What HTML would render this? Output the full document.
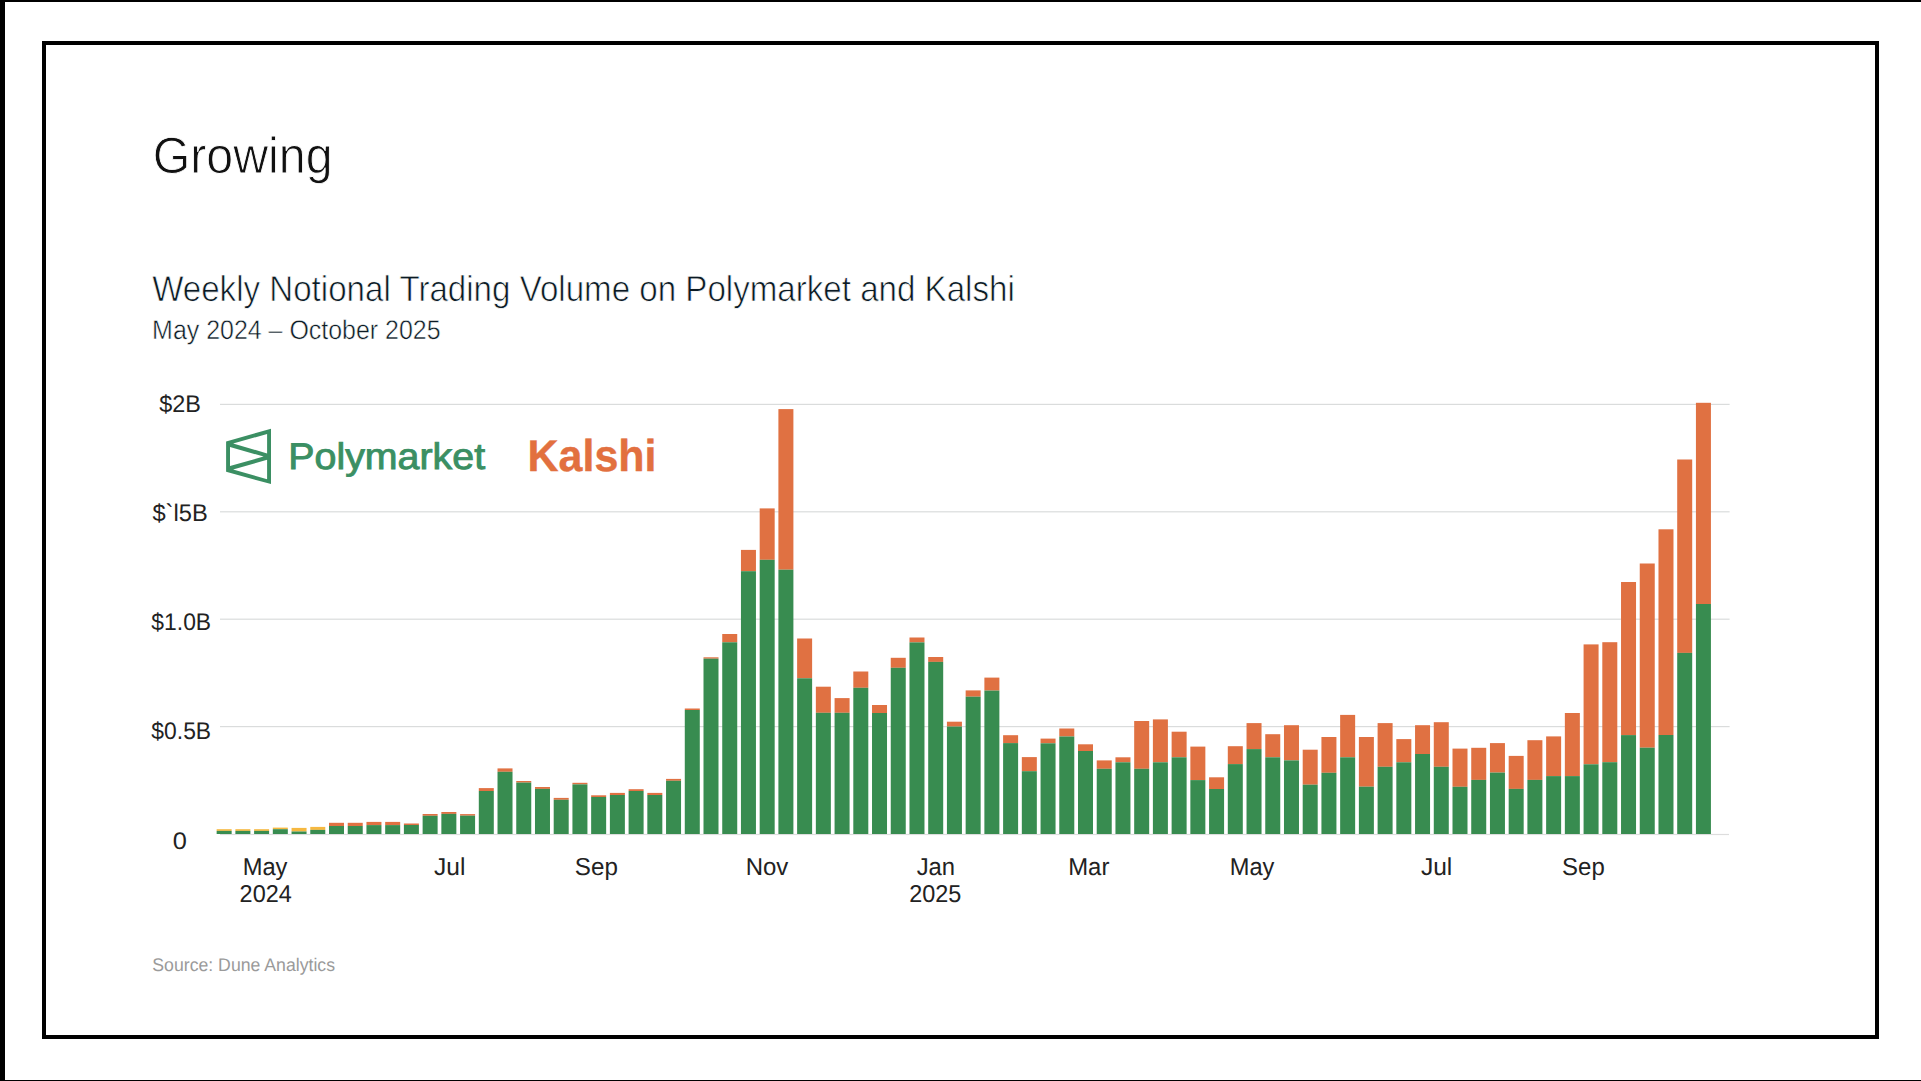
<!DOCTYPE html>
<html><head><meta charset="utf-8">
<style>
html,body{margin:0;padding:0;background:#fff;}
body{width:1921px;height:1081px;overflow:hidden;position:relative;}
svg{position:absolute;left:0;top:0;}
text{font-family:"Liberation Sans",sans-serif;text-rendering:geometricPrecision;}
</style></head><body>
<svg width="1921" height="1081" viewBox="0 0 1921 1081" xmlns="http://www.w3.org/2000/svg">
<rect x="0" y="0" width="1921" height="1081" fill="#fff"/>
<rect x="0" y="0" width="5" height="1081" fill="#000"/>
<rect x="0" y="0" width="1921" height="2" fill="#000"/>
<rect x="0" y="1080" width="1921" height="1" fill="#000"/>
<rect x="44" y="43" width="1833" height="994" fill="none" stroke="#000" stroke-width="4"/>
<rect x="220" y="403.80" width="1509.6" height="1.2" fill="#dadcdc"/>
<rect x="220" y="511.20" width="1509.6" height="1.2" fill="#dadcdc"/>
<rect x="220" y="618.60" width="1509.6" height="1.2" fill="#dadcdc"/>
<rect x="220" y="726.00" width="1509.6" height="1.2" fill="#dadcdc"/>
<rect x="220" y="833.90" width="1509" height="1.2" fill="#dddddd"/>
<rect x="216.65" y="829.20" width="15.0" height="1.70" fill="#f6b840"/>
<rect x="216.65" y="830.90" width="15.0" height="3.10" fill="#388c50"/>
<rect x="235.38" y="829.20" width="15.0" height="1.70" fill="#f6b840"/>
<rect x="235.38" y="830.90" width="15.0" height="3.10" fill="#388c50"/>
<rect x="254.10" y="829.20" width="15.0" height="1.70" fill="#f6b840"/>
<rect x="254.10" y="830.90" width="15.0" height="3.10" fill="#388c50"/>
<rect x="272.82" y="827.60" width="15.0" height="1.60" fill="#f6b840"/>
<rect x="272.82" y="829.20" width="15.0" height="4.80" fill="#388c50"/>
<rect x="291.55" y="827.90" width="15.0" height="3.60" fill="#f6b840"/>
<rect x="291.55" y="831.50" width="15.0" height="2.50" fill="#388c50"/>
<rect x="310.27" y="826.90" width="15.0" height="3.00" fill="#f6b840"/>
<rect x="310.27" y="829.90" width="15.0" height="4.10" fill="#388c50"/>
<rect x="329.00" y="822.80" width="15.0" height="3.20" fill="#e07142"/>
<rect x="329.00" y="826.00" width="15.0" height="8.00" fill="#388c50"/>
<rect x="347.73" y="822.80" width="15.0" height="3.20" fill="#e07142"/>
<rect x="347.73" y="826.00" width="15.0" height="8.00" fill="#388c50"/>
<rect x="366.45" y="821.90" width="15.0" height="3.20" fill="#e07142"/>
<rect x="366.45" y="825.10" width="15.0" height="8.90" fill="#388c50"/>
<rect x="385.18" y="821.90" width="15.0" height="3.20" fill="#e07142"/>
<rect x="385.18" y="825.10" width="15.0" height="8.90" fill="#388c50"/>
<rect x="403.90" y="823.50" width="15.0" height="1.50" fill="#e07142"/>
<rect x="403.90" y="825.00" width="15.0" height="9.00" fill="#388c50"/>
<rect x="422.62" y="814.00" width="15.0" height="1.80" fill="#e07142"/>
<rect x="422.62" y="815.80" width="15.0" height="18.20" fill="#388c50"/>
<rect x="441.35" y="812.00" width="15.0" height="1.90" fill="#e07142"/>
<rect x="441.35" y="813.90" width="15.0" height="20.10" fill="#388c50"/>
<rect x="460.08" y="814.10" width="15.0" height="1.60" fill="#e07142"/>
<rect x="460.08" y="815.70" width="15.0" height="18.30" fill="#388c50"/>
<rect x="478.80" y="788.10" width="15.0" height="2.90" fill="#e07142"/>
<rect x="478.80" y="791.00" width="15.0" height="43.00" fill="#388c50"/>
<rect x="497.52" y="768.40" width="15.0" height="3.40" fill="#e07142"/>
<rect x="497.52" y="771.80" width="15.0" height="62.20" fill="#388c50"/>
<rect x="516.25" y="781.00" width="15.0" height="1.60" fill="#e07142"/>
<rect x="516.25" y="782.60" width="15.0" height="51.40" fill="#388c50"/>
<rect x="534.98" y="787.00" width="15.0" height="1.90" fill="#e07142"/>
<rect x="534.98" y="788.90" width="15.0" height="45.10" fill="#388c50"/>
<rect x="553.70" y="797.90" width="15.0" height="1.90" fill="#e07142"/>
<rect x="553.70" y="799.80" width="15.0" height="34.20" fill="#388c50"/>
<rect x="572.43" y="782.80" width="15.0" height="1.60" fill="#e07142"/>
<rect x="572.43" y="784.40" width="15.0" height="49.60" fill="#388c50"/>
<rect x="591.15" y="795.30" width="15.0" height="1.70" fill="#e07142"/>
<rect x="591.15" y="797.00" width="15.0" height="37.00" fill="#388c50"/>
<rect x="609.88" y="792.90" width="15.0" height="2.10" fill="#e07142"/>
<rect x="609.88" y="795.00" width="15.0" height="39.00" fill="#388c50"/>
<rect x="628.60" y="789.20" width="15.0" height="1.80" fill="#e07142"/>
<rect x="628.60" y="791.00" width="15.0" height="43.00" fill="#388c50"/>
<rect x="647.33" y="792.90" width="15.0" height="2.10" fill="#e07142"/>
<rect x="647.33" y="795.00" width="15.0" height="39.00" fill="#388c50"/>
<rect x="666.05" y="778.90" width="15.0" height="1.90" fill="#e07142"/>
<rect x="666.05" y="780.80" width="15.0" height="53.20" fill="#388c50"/>
<rect x="684.78" y="708.50" width="15.0" height="1.50" fill="#e07142"/>
<rect x="684.78" y="710.00" width="15.0" height="124.00" fill="#388c50"/>
<rect x="703.50" y="657.30" width="15.0" height="1.40" fill="#e07142"/>
<rect x="703.50" y="658.70" width="15.0" height="175.30" fill="#388c50"/>
<rect x="722.23" y="634.00" width="15.0" height="8.30" fill="#e07142"/>
<rect x="722.23" y="642.30" width="15.0" height="191.70" fill="#388c50"/>
<rect x="740.95" y="549.90" width="15.0" height="21.30" fill="#e07142"/>
<rect x="740.95" y="571.20" width="15.0" height="262.80" fill="#388c50"/>
<rect x="759.68" y="508.40" width="15.0" height="51.40" fill="#e07142"/>
<rect x="759.68" y="559.80" width="15.0" height="274.20" fill="#388c50"/>
<rect x="778.40" y="409.10" width="15.0" height="160.60" fill="#e07142"/>
<rect x="778.40" y="569.70" width="15.0" height="264.30" fill="#388c50"/>
<rect x="797.12" y="638.50" width="15.0" height="39.80" fill="#e07142"/>
<rect x="797.12" y="678.30" width="15.0" height="155.70" fill="#388c50"/>
<rect x="815.85" y="686.70" width="15.0" height="26.10" fill="#e07142"/>
<rect x="815.85" y="712.80" width="15.0" height="121.20" fill="#388c50"/>
<rect x="834.58" y="698.10" width="15.0" height="14.70" fill="#e07142"/>
<rect x="834.58" y="712.80" width="15.0" height="121.20" fill="#388c50"/>
<rect x="853.30" y="671.50" width="15.0" height="16.30" fill="#e07142"/>
<rect x="853.30" y="687.80" width="15.0" height="146.20" fill="#388c50"/>
<rect x="872.02" y="705.00" width="15.0" height="8.00" fill="#e07142"/>
<rect x="872.02" y="713.00" width="15.0" height="121.00" fill="#388c50"/>
<rect x="890.75" y="657.80" width="15.0" height="10.00" fill="#e07142"/>
<rect x="890.75" y="667.80" width="15.0" height="166.20" fill="#388c50"/>
<rect x="909.48" y="637.50" width="15.0" height="4.90" fill="#e07142"/>
<rect x="909.48" y="642.40" width="15.0" height="191.60" fill="#388c50"/>
<rect x="928.20" y="657.00" width="15.0" height="4.90" fill="#e07142"/>
<rect x="928.20" y="661.90" width="15.0" height="172.10" fill="#388c50"/>
<rect x="946.93" y="721.70" width="15.0" height="4.90" fill="#e07142"/>
<rect x="946.93" y="726.60" width="15.0" height="107.40" fill="#388c50"/>
<rect x="965.65" y="690.40" width="15.0" height="6.30" fill="#e07142"/>
<rect x="965.65" y="696.70" width="15.0" height="137.30" fill="#388c50"/>
<rect x="984.38" y="677.60" width="15.0" height="13.00" fill="#e07142"/>
<rect x="984.38" y="690.60" width="15.0" height="143.40" fill="#388c50"/>
<rect x="1003.10" y="735.20" width="15.0" height="7.90" fill="#e07142"/>
<rect x="1003.10" y="743.10" width="15.0" height="90.90" fill="#388c50"/>
<rect x="1021.83" y="757.10" width="15.0" height="14.10" fill="#e07142"/>
<rect x="1021.83" y="771.20" width="15.0" height="62.80" fill="#388c50"/>
<rect x="1040.55" y="738.60" width="15.0" height="4.70" fill="#e07142"/>
<rect x="1040.55" y="743.30" width="15.0" height="90.70" fill="#388c50"/>
<rect x="1059.28" y="728.50" width="15.0" height="8.00" fill="#e07142"/>
<rect x="1059.28" y="736.50" width="15.0" height="97.50" fill="#388c50"/>
<rect x="1078.00" y="744.30" width="15.0" height="6.70" fill="#e07142"/>
<rect x="1078.00" y="751.00" width="15.0" height="83.00" fill="#388c50"/>
<rect x="1096.73" y="760.40" width="15.0" height="8.40" fill="#e07142"/>
<rect x="1096.73" y="768.80" width="15.0" height="65.20" fill="#388c50"/>
<rect x="1115.45" y="757.30" width="15.0" height="5.00" fill="#e07142"/>
<rect x="1115.45" y="762.30" width="15.0" height="71.70" fill="#388c50"/>
<rect x="1134.18" y="721.00" width="15.0" height="47.80" fill="#e07142"/>
<rect x="1134.18" y="768.80" width="15.0" height="65.20" fill="#388c50"/>
<rect x="1152.90" y="719.40" width="15.0" height="42.90" fill="#e07142"/>
<rect x="1152.90" y="762.30" width="15.0" height="71.70" fill="#388c50"/>
<rect x="1171.62" y="731.70" width="15.0" height="25.60" fill="#e07142"/>
<rect x="1171.62" y="757.30" width="15.0" height="76.70" fill="#388c50"/>
<rect x="1190.35" y="746.60" width="15.0" height="33.50" fill="#e07142"/>
<rect x="1190.35" y="780.10" width="15.0" height="53.90" fill="#388c50"/>
<rect x="1209.08" y="777.30" width="15.0" height="11.70" fill="#e07142"/>
<rect x="1209.08" y="789.00" width="15.0" height="45.00" fill="#388c50"/>
<rect x="1227.80" y="746.20" width="15.0" height="17.90" fill="#e07142"/>
<rect x="1227.80" y="764.10" width="15.0" height="69.90" fill="#388c50"/>
<rect x="1246.53" y="723.10" width="15.0" height="26.00" fill="#e07142"/>
<rect x="1246.53" y="749.10" width="15.0" height="84.90" fill="#388c50"/>
<rect x="1265.25" y="734.20" width="15.0" height="23.10" fill="#e07142"/>
<rect x="1265.25" y="757.30" width="15.0" height="76.70" fill="#388c50"/>
<rect x="1283.98" y="725.20" width="15.0" height="35.20" fill="#e07142"/>
<rect x="1283.98" y="760.40" width="15.0" height="73.60" fill="#388c50"/>
<rect x="1302.70" y="749.70" width="15.0" height="35.00" fill="#e07142"/>
<rect x="1302.70" y="784.70" width="15.0" height="49.30" fill="#388c50"/>
<rect x="1321.43" y="737.00" width="15.0" height="35.80" fill="#e07142"/>
<rect x="1321.43" y="772.80" width="15.0" height="61.20" fill="#388c50"/>
<rect x="1340.15" y="714.90" width="15.0" height="42.40" fill="#e07142"/>
<rect x="1340.15" y="757.30" width="15.0" height="76.70" fill="#388c50"/>
<rect x="1358.88" y="737.00" width="15.0" height="49.70" fill="#e07142"/>
<rect x="1358.88" y="786.70" width="15.0" height="47.30" fill="#388c50"/>
<rect x="1377.60" y="723.10" width="15.0" height="43.70" fill="#e07142"/>
<rect x="1377.60" y="766.80" width="15.0" height="67.20" fill="#388c50"/>
<rect x="1396.33" y="739.10" width="15.0" height="23.20" fill="#e07142"/>
<rect x="1396.33" y="762.30" width="15.0" height="71.70" fill="#388c50"/>
<rect x="1415.05" y="725.20" width="15.0" height="28.80" fill="#e07142"/>
<rect x="1415.05" y="754.00" width="15.0" height="80.00" fill="#388c50"/>
<rect x="1433.78" y="722.20" width="15.0" height="44.60" fill="#e07142"/>
<rect x="1433.78" y="766.80" width="15.0" height="67.20" fill="#388c50"/>
<rect x="1452.50" y="748.60" width="15.0" height="38.20" fill="#e07142"/>
<rect x="1452.50" y="786.80" width="15.0" height="47.20" fill="#388c50"/>
<rect x="1471.23" y="747.80" width="15.0" height="32.10" fill="#e07142"/>
<rect x="1471.23" y="779.90" width="15.0" height="54.10" fill="#388c50"/>
<rect x="1489.95" y="743.10" width="15.0" height="29.50" fill="#e07142"/>
<rect x="1489.95" y="772.60" width="15.0" height="61.40" fill="#388c50"/>
<rect x="1508.68" y="755.90" width="15.0" height="33.00" fill="#e07142"/>
<rect x="1508.68" y="788.90" width="15.0" height="45.10" fill="#388c50"/>
<rect x="1527.40" y="740.20" width="15.0" height="39.70" fill="#e07142"/>
<rect x="1527.40" y="779.90" width="15.0" height="54.10" fill="#388c50"/>
<rect x="1546.13" y="736.40" width="15.0" height="39.70" fill="#e07142"/>
<rect x="1546.13" y="776.10" width="15.0" height="57.90" fill="#388c50"/>
<rect x="1564.85" y="713.00" width="15.0" height="63.10" fill="#e07142"/>
<rect x="1564.85" y="776.10" width="15.0" height="57.90" fill="#388c50"/>
<rect x="1583.58" y="644.40" width="15.0" height="119.90" fill="#e07142"/>
<rect x="1583.58" y="764.30" width="15.0" height="69.70" fill="#388c50"/>
<rect x="1602.30" y="642.20" width="15.0" height="120.00" fill="#e07142"/>
<rect x="1602.30" y="762.20" width="15.0" height="71.80" fill="#388c50"/>
<rect x="1621.03" y="582.00" width="15.0" height="153.10" fill="#e07142"/>
<rect x="1621.03" y="735.10" width="15.0" height="98.90" fill="#388c50"/>
<rect x="1639.75" y="563.50" width="15.0" height="184.20" fill="#e07142"/>
<rect x="1639.75" y="747.70" width="15.0" height="86.30" fill="#388c50"/>
<rect x="1658.48" y="529.30" width="15.0" height="205.70" fill="#e07142"/>
<rect x="1658.48" y="735.00" width="15.0" height="99.00" fill="#388c50"/>
<rect x="1677.20" y="459.50" width="15.0" height="193.40" fill="#e07142"/>
<rect x="1677.20" y="652.90" width="15.0" height="181.10" fill="#388c50"/>
<rect x="1695.93" y="402.80" width="15.0" height="201.20" fill="#e07142"/>
<rect x="1695.93" y="604.00" width="15.0" height="230.00" fill="#388c50"/>
<path fill="#3b8f63" fill-rule="evenodd" d="M226.1,441.4 L271.0,428.7 L271.0,484.1 L226.1,471.8 Z M233.1,443.6 L267.1,433.9 L267.1,453.4 Z M230.0,446.9 L263.6,456.6 L230.0,466.0 Z M233.1,469.5 L267.1,459.8 L267.1,479.3 Z"/>
<text x="152.65" y="172.9" font-size="51" fill="#111" stroke="#fff" stroke-width="0.9" textLength="179.92" lengthAdjust="spacingAndGlyphs">Growing</text>
<text x="152.13" y="300.5" font-size="36" fill="#0b1a24" stroke="#fff" stroke-width="0.7" textLength="862.64" lengthAdjust="spacingAndGlyphs">Weekly Notional Trading Volume on Polymarket and Kalshi</text>
<text x="152.12" y="338.6" font-size="27" fill="#0b1a24" stroke="#fff" stroke-width="0.5" textLength="288.51" lengthAdjust="spacingAndGlyphs">May 2024 – October 2025</text>
<text x="159.28" y="411.7" font-size="24" fill="#222" textLength="41.61" lengthAdjust="spacingAndGlyphs">$2B</text>
<text x="152.43" y="520.8" font-size="24" fill="#222" textLength="55.29" lengthAdjust="spacingAndGlyphs">$`l5B</text>
<text x="151.37" y="630.0" font-size="24" fill="#222" textLength="59.74" lengthAdjust="spacingAndGlyphs">$1.0B</text>
<text x="151.37" y="739.0" font-size="24" fill="#222" textLength="59.74" lengthAdjust="spacingAndGlyphs">$0.5B</text>
<text x="172.78" y="848.7" font-size="24" fill="#222" textLength="14.12" lengthAdjust="spacingAndGlyphs">0</text>
<text x="242.67" y="874.7" font-size="24.5" fill="#222" textLength="44.79" lengthAdjust="spacingAndGlyphs">May</text>
<text x="239.60" y="902.3" font-size="24.5" fill="#222" textLength="52.14" lengthAdjust="spacingAndGlyphs">2024</text>
<text x="433.97" y="874.7" font-size="24.5" fill="#222" textLength="31.39" lengthAdjust="spacingAndGlyphs">Jul</text>
<text x="574.87" y="874.7" font-size="24.5" fill="#222" textLength="43.05" lengthAdjust="spacingAndGlyphs">Sep</text>
<text x="745.63" y="874.7" font-size="24.5" fill="#222" textLength="42.66" lengthAdjust="spacingAndGlyphs">Nov</text>
<text x="916.66" y="874.7" font-size="24.5" fill="#222" textLength="38.43" lengthAdjust="spacingAndGlyphs">Jan</text>
<text x="909.29" y="902.3" font-size="24.5" fill="#222" textLength="52.12" lengthAdjust="spacingAndGlyphs">2025</text>
<text x="1068.23" y="874.7" font-size="24.5" fill="#222" textLength="41.14" lengthAdjust="spacingAndGlyphs">Mar</text>
<text x="1229.74" y="874.7" font-size="24.5" fill="#222" textLength="44.64" lengthAdjust="spacingAndGlyphs">May</text>
<text x="1420.93" y="874.7" font-size="24.5" fill="#222" textLength="31.41" lengthAdjust="spacingAndGlyphs">Jul</text>
<text x="1562.11" y="874.7" font-size="24.5" fill="#222" textLength="42.62" lengthAdjust="spacingAndGlyphs">Sep</text>
<text x="288.28" y="469.2" font-size="37" fill="#3b8f63" stroke="#3b8f63" stroke-width="0.9" textLength="196.87" lengthAdjust="spacingAndGlyphs">Polymarket</text>
<text x="527.59" y="471.4" font-size="44.5" font-weight="bold" fill="#e2703f" stroke="#e2703f" stroke-width="0.4" textLength="128.93" lengthAdjust="spacingAndGlyphs">Kalshi</text>
<text x="152.33" y="970.8" font-size="18.3" fill="#9a9a9a" textLength="182.67" lengthAdjust="spacingAndGlyphs">Source: Dune Analytics</text>
</svg>
</body></html>
